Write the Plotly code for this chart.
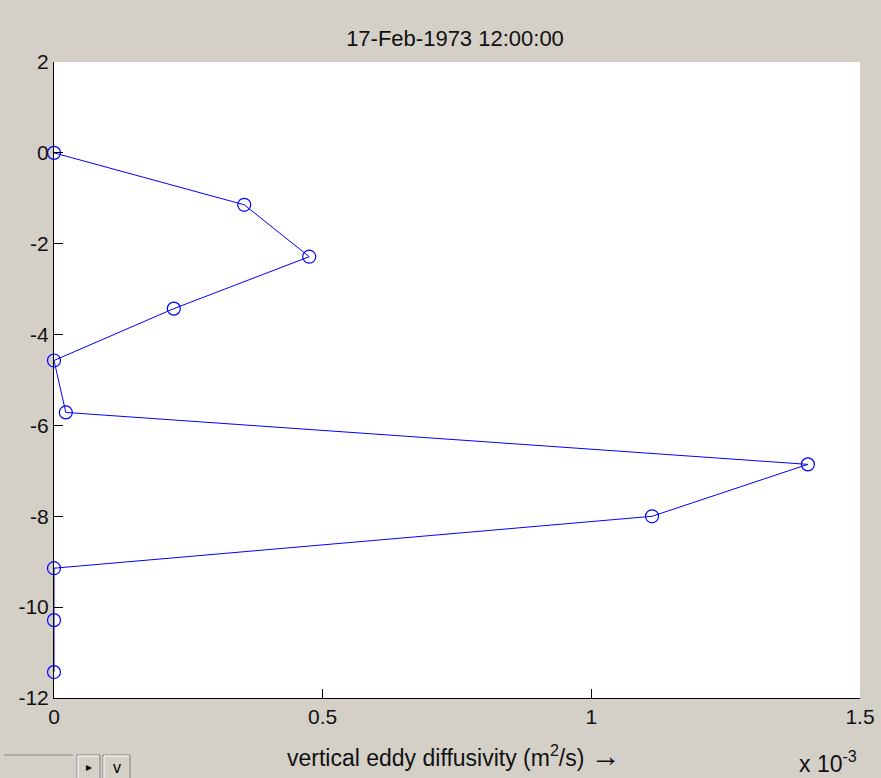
import plotly.graph_objects as go

# depth levels (m) and vertical eddy diffusivity (in units of 1e-3 m^2/s)
depth = [0.0, -1.143, -2.286, -3.429, -4.571, -5.714, -6.857, -8.0, -9.143, -10.286, -11.429]
diffusivity_e3 = [0.0, 0.354, 0.475, 0.223, 0.0, 0.022, 1.403, 1.113, 0.0, 0.0, 0.0]

x_ticks = [0, 0.5, 1, 1.5]
x_tick_labels = ["0", "0.5", "1", "1.5"]
y_ticks = [2, 0, -2, -4, -6, -8, -10, -12]
y_tick_labels = ["2", "0", "-2", "-4", "-6", "-8", "-10", "-12"]

title_text = "17-Feb-1973 12:00:00"
xlabel_text = "vertical eddy diffusivity (m<sup>2</sup>/s) <span style='font-size:30px'>\u2192</span>"
exp_text = "x 10<sup>-3</sup>"

W, H = 881, 778
L, R, T, B = 54, 21, 62, 80
PW, PH = W - L - R, H - T - B
GREY = "#d4d0c8"
FONT = "Liberation Sans, Arial, sans-serif"
TXT = "#111111"


def px(x):
    return (x - L) / PW


def py(y):
    return (H - B - y) / PH


fig = go.Figure()
fig.add_trace(go.Scatter(
    x=diffusivity_e3, y=depth, mode="lines+markers",
    line=dict(color="#0000ff", width=1),
    marker=dict(symbol="circle-open", size=13, color="#0000ff", line=dict(width=1.2)),
    cliponaxis=False, showlegend=False,
))

axis_common = dict(
    showgrid=False, zeroline=False, showline=True, linecolor="black", linewidth=1,
    ticks="inside", ticklen=9, tickwidth=1, tickcolor="black", layer="above traces",
    tickfont=dict(family=FONT, size=21, color=TXT), mirror=False,
)

fig.update_layout(
    width=W, height=H,
    margin=dict(l=L, r=R, t=T, b=B, autoexpand=False),
    paper_bgcolor=GREY, plot_bgcolor="white",
    xaxis=dict(range=[0, 1.5], tickvals=x_ticks, ticktext=x_tick_labels, **axis_common),
    yaxis=dict(range=[-12, 2], tickvals=y_ticks, ticktext=y_tick_labels, **axis_common),
    title=dict(text=title_text, x=px(455), xref="paper", xanchor="center",
               y=1 - 38 / H, yanchor="middle",
               font=dict(family=FONT, size=22, color=TXT)),
    font=dict(family=FONT, color=TXT),
)

fig.add_annotation(text=xlabel_text, xref="paper", yref="paper", x=px(454), y=py(755),
                   xanchor="center", yanchor="middle", showarrow=False,
                   font=dict(family=FONT, size=23, color=TXT))
fig.add_annotation(text=exp_text, xref="paper", yref="paper", x=px(828), y=py(762),
                   xanchor="center", yanchor="middle", showarrow=False,
                   font=dict(family=FONT, size=23, color=TXT))

# GUI widgets at bottom-left
fig.add_shape(type="line", xref="paper", yref="paper", x0=px(4), x1=px(73), y0=py(755), y1=py(755),
              line=dict(color="#8a8780", width=1))
for x0, x1 in [(77, 100), (103, 130)]:
    fig.add_shape(type="rect", xref="paper", yref="paper", x0=px(x0), x1=px(x1), y0=py(755), y1=py(779),
                  line=dict(color="#808080", width=1), fillcolor=GREY)
    fig.add_shape(type="line", xref="paper", yref="paper", x0=px(x0 + 1), x1=px(x1 - 1), y0=py(756), y1=py(756),
                  line=dict(color="white", width=1))
    fig.add_shape(type="line", xref="paper", yref="paper", x0=px(x0 + 1), x1=px(x0 + 1), y0=py(756), y1=py(779),
                  line=dict(color="white", width=1))
fig.add_annotation(text="\u25b8", xref="paper", yref="paper", x=px(88.5), y=py(767),
                   xanchor="center", yanchor="middle", showarrow=False,
                   font=dict(family="DejaVu Sans", size=12, color="black"))
fig.add_annotation(text="v", xref="paper", yref="paper", x=px(116.5), y=py(767),
                   xanchor="center", yanchor="middle", showarrow=False,
                   font=dict(family=FONT, size=16, color="black"))

fig.write_html("out.html")
